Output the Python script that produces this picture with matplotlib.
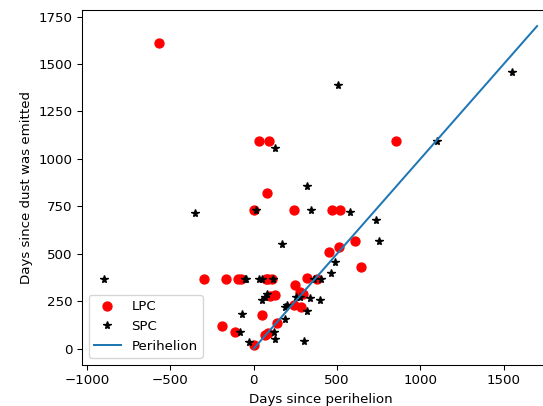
import matplotlib
matplotlib.use("Agg")
import matplotlib.pyplot as plt

'''Long period comets: days since perihelion vs days since dust emission'''
lpc_x = [-570, 30, 90, 855, 80,
         0, 240, 470, 520,
         -300, -165, -95, -78, 75, 85, 110, 320, 380,
         605, 450, 510, 645,
         250, 275, 295, 130, 95,
         50, -190, -112, 0, 70, 88, 140, 240, 282]
lpc_y = [1610, 1095, 1095, 1095, 820,
         730, 730, 730, 730,
         365, 365, 368, 365, 365, 365, 365, 372, 365,
         570, 510, 535, 430,
         335, 300, 290, 285, 275,
         180, 120, 90, 20, 72, 80, 135, 230, 220]

'''Short period comets'''
spc_x = [1550, 505, 1100, 130, 320,
         15, 345, 575, 735, 750, 170,
         -900, -350, -55, -45, 32, 52, 118, 362, 402,
         466, 490, 255, 280, 335, 395,
         82, 66, 48, -70, -80, -30,
         122, 125, 190, 190, 200, 320, 300]
spc_y = [1460, 1390, 1095, 1060, 855,
         730, 730, 720, 680, 570, 550,
         365, 715, 365, 365, 365, 365, 365, 365, 365,
         400, 455, 270, 270, 265, 255,
         288, 270, 257, 182, 90, 37,
         90, 50, 155, 220, 231, 200, 40]

'''Perihelion line'''
peri_x = [0, 1700]
peri_y = [0, 1700]

fig = plt.figure(figsize=(543/96.5, 406/96.5), dpi=96.5)
ax = fig.add_axes([0.151, 0.1015, 0.878, 0.874])

ax.plot(lpc_x, lpc_y, 'ro', markersize=6.7, label="LPC")
ax.plot(spc_x, spc_y, 'k*', label="SPC")
ax.plot(peri_x, peri_y, label="Perihelion")

ax.set_xlabel("Days since perihelion")
ax.set_ylabel("Days since dust was emitted")
ax.legend(loc="lower left")

fig.savefig("out.png", dpi=96.5)
